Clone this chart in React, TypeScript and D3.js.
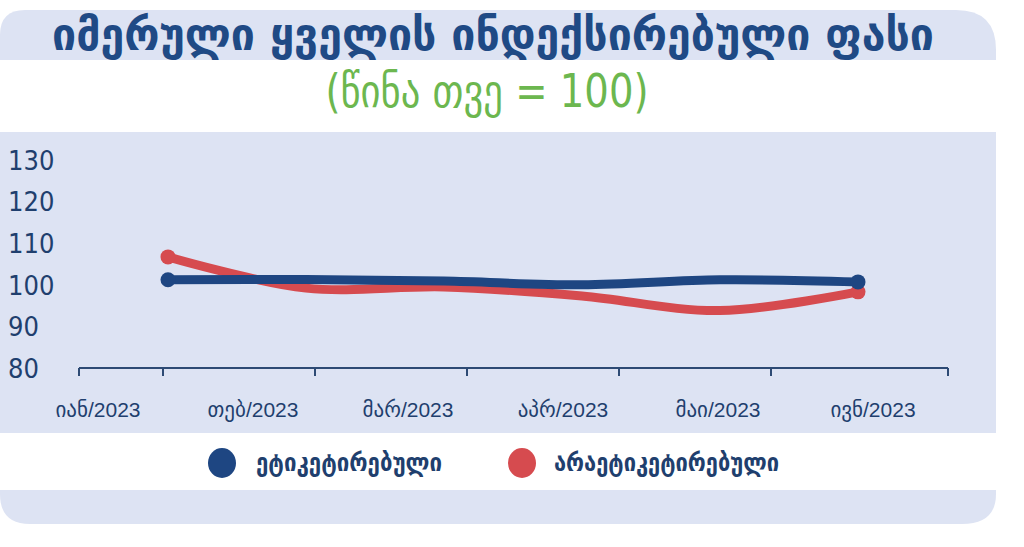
import * as d3 from 'd3';

const W = 1024;
const H = 547;

const title = 'იმერული ყველის ინდექსირებული ფასი';
const subtitle = '(წინა თვე = 100)';
const months = ['იან/2023', 'თებ/2023', 'მარ/2023', 'აპრ/2023', 'მაი/2023', 'ივნ/2023'];
const seriesNames = ['ეტიკეტირებული', 'არაეტიკეტირებული'];
const labeled = [101.2, 101.3, 100.9, 100.0, 101.2, 100.7];
const unlabeled = [106.7, 99.2, 99.5, 97.3, 93.8, 98.3];
const yTicks = [80, 90, 100, 110, 120, 130];

const navy = '#1e4682';
const red = '#d64b4f';
const panel = '#dde3f3';
const axisColor = '#2d4a74';
const textColor = '#1f3f6e';
const green = '#6cb74f';

const narrow = "'Liberation Sans Narrow', 'DejaVu Sans Condensed', sans-serif";
const sans = "'Liberation Sans', 'DejaVu Sans', sans-serif";
const display = "'DejaVu Sans Condensed', 'DejaVu Sans', sans-serif";

export default function App() {
  const y = d3.scaleLinear([80, 130], [368, 160]);
  // data points sit inside the axis, not on the ticks
  const x = d3.scalePoint(months, [168, 858]);
  const xLabel = d3.scalePoint(months, [98, 873]);
  const xBand = d3.scaleBand(months, [11, 923]);
  const axisX = [79, 948];
  const tickXs = [axisX[0], ...months.slice(1).map((m) => xBand(m)!), axisX[1]];

  const line = d3
    .line<number>()
    .x((_, i) => x(months[i])!)
    .y((d) => y(d))
    .curve(d3.curveCatmullRom);

  const series = [
    { name: seriesNames[1], values: unlabeled, color: red },
    { name: seriesNames[0], values: labeled, color: navy },
  ];

  // rounded panel shapes
  const topBand = `M0,60 L0,35 Q0,10 25,10 L956,10 Q996,10 996,50 L996,60 Z`;
  const bottomBand = `M0,490 L996,490 L996,494 Q996,524 962,524 L30,524 Q0,524 0,494 Z`;

  return (
    <svg width={W} height={H} style={{ position: 'fixed', left: 0, top: 0 }}>
      <rect width={W} height={H} fill="#ffffff" />
      <path d={topBand} fill={panel} />
      <rect x={0} y={132} width={996} height={301} fill={panel} />
      <path d={bottomBand} fill={panel} />

      <text
        x={493}
        y={50}
        textAnchor="middle"
        fontFamily={display}
        fontWeight={700}
        fontSize={44}
        fill="#1f4a85"
        textLength={882}
        lengthAdjust="spacingAndGlyphs"
      >
        {title}
      </text>
      <text
        x={487}
        y={107}
        textAnchor="middle"
        fontFamily={narrow}
        fontSize={46}
        fill={green}
        textLength={323}
        lengthAdjust="spacingAndGlyphs"
      >
        {subtitle}
      </text>

      {yTicks.map((t) => (
        <text
          key={t}
          x={8}
          y={y(t)}
          dy="0.36em"
          fontFamily={narrow}
          fontSize={27}
          fill={textColor}
        >
          {t}
        </text>
      ))}

      <line x1={axisX[0]} x2={axisX[1]} y1={y(80)} y2={y(80)} stroke={axisColor} strokeWidth={2} />
      {tickXs.map((tx, i) => (
        <line key={i} x1={tx} x2={tx} y1={y(80)} y2={y(80) + 8} stroke={axisColor} strokeWidth={2} />
      ))}
      {months.map((m) => (
        <text
          key={m}
          x={xLabel(m)}
          y={417}
          textAnchor="middle"
          fontFamily={sans}
          fontSize={21}
          fill={textColor}
        >
          {m}
        </text>
      ))}

      {series.map((s) => (
        <g key={s.name}>
          <path
            d={line(s.values) ?? ''}
            fill="none"
            stroke={s.color}
            strokeWidth={9}
            strokeLinecap="round"
          />
          {[0, s.values.length - 1].map((i) => (
            <circle key={i} cx={x(months[i])} cy={y(s.values[i])} r={7.5} fill={s.color} />
          ))}
        </g>
      ))}

      <g>
        <ellipse cx={222} cy={463} rx={14} ry={15} fill={navy} />
        <text
          x={256}
          y={471}
          fontFamily={display}
          fontWeight={700}
          fontSize={25}
          fill={textColor}
          textLength={186}
          lengthAdjust="spacingAndGlyphs"
        >
          {seriesNames[0]}
        </text>
        <ellipse cx={522} cy={463} rx={14} ry={15} fill={red} />
        <text
          x={554}
          y={471}
          fontFamily={display}
          fontWeight={700}
          fontSize={25}
          fill={textColor}
          textLength={225}
          lengthAdjust="spacingAndGlyphs"
        >
          {seriesNames[1]}
        </text>
      </g>
    </svg>
  );
}
